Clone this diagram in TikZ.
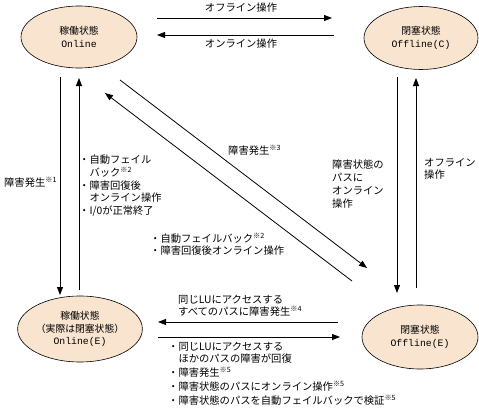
\documentclass[tikz,border=0pt]{standalone}
\usepackage{fontspec}
\setmainfont{Noto Sans CJK JP}
\setmonofont{Liberation Mono}
\usetikzlibrary{arrows.meta,shapes.geometric}
\definecolor{statefill}{RGB}{249,228,208}
\tikzset{
  state/.style={ellipse, draw, line width=0.6pt, fill=statefill, inner sep=0pt,
    align=center, font=\fontsize{9.8}{12.8}\selectfont},
  arr/.style={line width=0.8pt, -{Triangle[length=8pt,width=6pt]}},
  lbl/.style={inner sep=0pt, align=left, font=\fontsize{10.3}{12.7}\selectfont},
}
\newcommand\nt[1]{\textsuperscript{※#1}}
\begin{document}
\begin{tikzpicture}[x=1pt,y=-1pt]
\useasboundingbox (0,0) rectangle (479,412);
% states
\node[state, minimum width=116pt, minimum height=62pt] (on) at (79,37) {稼働状態\\\texttt{Online}};
\node[state, minimum width=114pt, minimum height=63pt] (offc) at (421,38) {閉塞状態\\\texttt{Offline(C)}};
\node[state, minimum width=118pt, minimum height=66pt] (one) at (80,329) {稼働状態\\（実際は閉塞状態）\\\texttt{Online(E)}};
\node[state, minimum width=116pt, minimum height=64pt] (offe) at (420,337) {閉塞状態\\\texttt{Offline(E)}};
% endpoints
\coordinate (t1s) at (157,18);  \coordinate (t1e) at (332,18);
\coordinate (t2s) at (334,35);  \coordinate (t2e) at (157,35);
\coordinate (l1s) at (60,77);   \coordinate (l1e) at (60,295);
\coordinate (l2s) at (79,290);  \coordinate (l2e) at (79,78);
\coordinate (r1s) at (397,77);  \coordinate (r1e) at (397,293);
\coordinate (r2s) at (416,288); \coordinate (r2e) at (416,78);
\coordinate (d1s) at (120,80);  \coordinate (d1e) at (367,268);
\coordinate (d2s) at (352,281); \coordinate (d2e) at (105,93);
\coordinate (b1s) at (338,322); \coordinate (b1e) at (158,322);
\coordinate (b2s) at (158,337); \coordinate (b2e) at (340,337);
% connectors
\draw[arr] (t1s) -- (t1e);
\draw[arr] (t2s) -- (t2e);
\draw[arr] (l1s) -- (l1e);
\draw[arr] (l2s) -- (l2e);
\draw[arr] (r1s) -- (r1e);
\draw[arr] (r2s) -- (r2e);
\draw[arr] (d1s) -- (d1e);
\draw[arr] (d2s) -- (d2e);
\draw[arr] (b1s) -- (b1e);
\draw[arr] (b2s) -- (b2e);
% labels
\node[lbl] (lt1) at (241,8) {オフライン操作};
\node[lbl] (lt2) at (241,44) {オンライン操作};
\node[lbl, anchor=west] (ll1) at (4,182) {障害発生\nt{1}};
\node[lbl, anchor=north west] (ll2) at (79,155) {・自動フェイル\\\hphantom{・}バック\nt{2}\\・障害回復後\\\hphantom{・}オンライン操作\\・I/0が正常終了};
\node[lbl, anchor=west] (ld1) at (228,150) {障害発生\nt{3}};
\node[lbl, anchor=north west, font=\fontsize{10.3}{12}\selectfont] (ld2) at (150,233) {・自動フェイルバック\nt{2}\\・障害回復後オンライン操作};
\node[lbl, anchor=north west] (lr1) at (332,160) {障害状態の\\パスに\\オンライン\\操作};
\node[lbl, anchor=north west] (lr2) at (424,158) {オフライン\\操作};
\node[lbl, anchor=north west, font=\fontsize{10.3}{12}\selectfont] (lb1) at (178,295) {同じLUにアクセスする\\すべてのパスに障害発生\nt{4}};
\node[lbl, anchor=north west, font=\fontsize{10.3}{12}\selectfont] (lb2) at (168,342) {・同じLUにアクセスする\\\hphantom{・}ほかのパスの障害が回復\\[2pt]・障害発生\nt{5}\\[2pt]・障害状態のパスにオンライン操作\nt{5}\\[2pt]・障害状態のパスを自動フェイルバックで検証\nt{5}};
\end{tikzpicture}
\end{document}
